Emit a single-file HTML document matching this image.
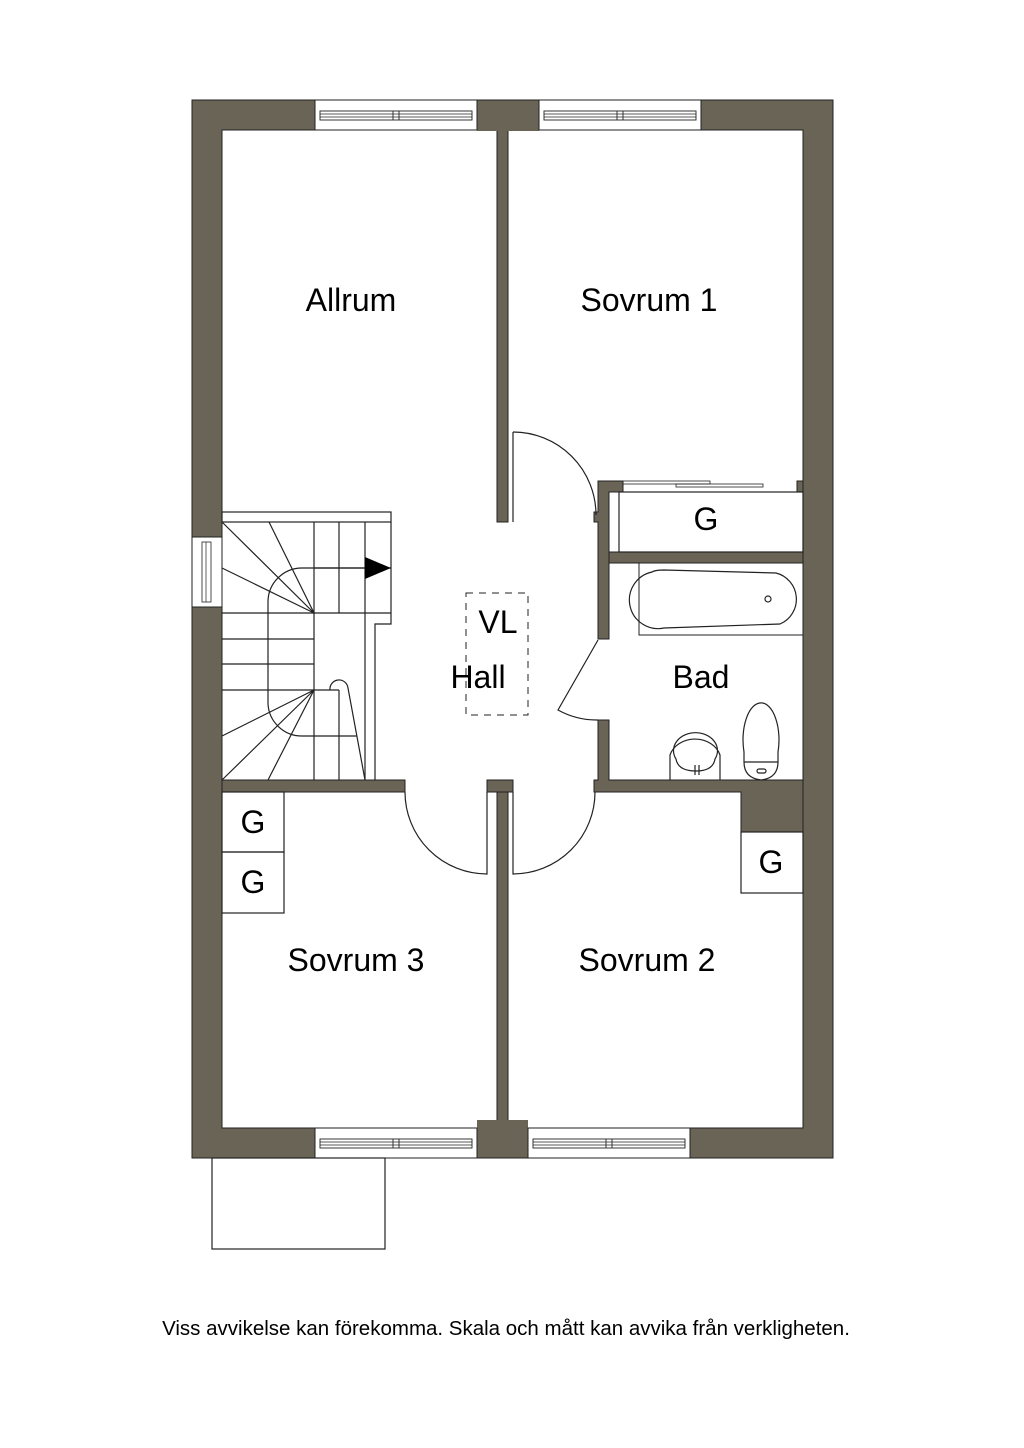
<!DOCTYPE html>
<html><head><meta charset="utf-8"><style>
html,body{margin:0;padding:0;background:#fff;}
svg{display:block;}
text{font-family:"Liberation Sans",sans-serif;fill:#000;}
</style></head><body>
<svg width="1024" height="1448" viewBox="0 0 1024 1448" xmlns="http://www.w3.org/2000/svg">
<defs>
<g id="winH">
<rect x="0" y="0" width="162" height="30" fill="#fff" stroke="#222" stroke-width="1"/>
<rect x="5" y="11" width="152" height="9" fill="none" stroke="#222" stroke-width="0.9"/>
<line x1="5" y1="14" x2="157" y2="14" stroke="#222" stroke-width="0.7"/>
<line x1="5" y1="17" x2="157" y2="17" stroke="#222" stroke-width="0.7"/>
<line x1="78" y1="11" x2="78" y2="20" stroke="#222" stroke-width="0.9"/>
<line x1="84" y1="11" x2="84" y2="20" stroke="#222" stroke-width="0.9"/>
</g>
</defs>
<g fill="#6a6456" stroke="#222" stroke-width="1">
<path fill-rule="evenodd" d="M192 100 H833 V1158 H192 Z M222 130 V1128 H803 V130 Z"/>
<rect x="497" y="130" width="11" height="392"/>
<rect x="477" y="115" width="62" height="16" stroke="none"/>
<rect x="497" y="792" width="11" height="336"/>
<rect x="477" y="1120" width="51" height="12" stroke="none"/>
<rect x="487" y="780" width="26" height="12"/>
<rect x="222" y="780" width="183" height="12"/>
<path d="M598 481 H623 V492 H609 V639 H598 V522 H594 V512 H598 Z"/>
<rect x="797" y="481" width="6" height="11"/>
<rect x="609" y="552" width="194" height="11"/>
<path d="M598 720 H609 V780 H803 V832 H741 V792 H594 V780 H598 Z"/>
</g>
<use href="#winH" x="315" y="100"/>
<use href="#winH" x="539" y="100"/>
<use href="#winH" x="315" y="1128"/>
<use href="#winH" x="528" y="1128"/>
<rect x="192" y="537" width="30" height="70" fill="#fff" stroke="#222"/>
<rect x="202" y="542" width="9" height="60" fill="none" stroke="#222" stroke-width="0.8"/>
<line x1="206" y1="542" x2="206" y2="602" stroke="#222" stroke-width="0.7"/>
<g fill="none" stroke="#222" stroke-width="1.2">
<rect x="222" y="512" width="169" height="10"/>
<path d="M391 522 V624 H375 V780"/>
<line x1="365" y1="522" x2="365" y2="780"/>
<line x1="314" y1="522" x2="314" y2="780"/>
<line x1="339" y1="522" x2="339" y2="613"/>
<line x1="339" y1="690" x2="339" y2="780"/>
<line x1="314" y1="568" x2="391" y2="568"/>
<line x1="222" y1="613" x2="391" y2="613"/>
<line x1="222" y1="639" x2="314" y2="639"/>
<line x1="222" y1="664" x2="314" y2="664"/>
<line x1="222" y1="690" x2="339" y2="690"/>
<line x1="314" y1="736" x2="357" y2="736"/>
<path d="M314 613 L222 522 M314 613 L269 522 M314 613 L222 568"/>
<path d="M314 690 L222 736 M314 690 L222 780 M314 690 L268 780"/>
<path d="M365 568 H302 A34 34 0 0 0 268 602 V704 A34 34 0 0 0 302 736 H314"/>
<path d="M330 690 A9 9 0 0 1 348 688 L365 780"/>
<rect x="466" y="593" width="62" height="122" stroke-dasharray="7,6" stroke-width="1"/>
<path d="M513 432 V522"/>
<path d="M513 432 A83 83 0 0 1 596 515"/>
<path d="M405 792 A82 82 0 0 0 487 874 V792"/>
<path d="M595 792 A82 82 0 0 1 513 874 V792"/>
<path d="M598 640 L558 710 A80 80 0 0 0 598 720"/>
<rect x="222" y="792" width="62" height="60"/>
<rect x="222" y="852" width="62" height="61"/>
<rect x="741" y="832" width="62" height="61"/>
<rect x="619" y="492" width="184" height="60"/>
<rect x="623" y="481" width="87" height="3" stroke-width="0.8"/>
<rect x="676" y="484" width="87" height="3" stroke-width="0.8"/>
<rect x="212" y="1158" width="173" height="91"/>
<rect x="639" y="563" width="164" height="72" stroke-width="1"/>
<path d="M664 570 Q655 570 652 572 A28 28 0 0 0 664 628 L780 624 A27 27 0 0 0 776 573 L664 570 Z"/>
<circle cx="768" cy="599" r="3"/>
<path d="M670 780 V755 A26 22 0 0 1 720 755 V780"/>
<path d="M676 759 A22 18 0 1 1 715 759 Q713 771 696 771 Q678 771 676 759 Z"/>
<path d="M695 765 V775 M699 765 V775"/>
<path d="M744 752 A18 37 0 1 1 778 752 V762 Q778 778 761 780 Q744 778 744 762 Z"/>
<path d="M744 762 H778"/>
<rect x="757" y="769" width="9" height="4" rx="2"/>
</g>
<path d="M365 557 L391 568 L365 579 Z" fill="#000"/>
<g font-size="32" text-anchor="middle">
<text x="351" y="311">Allrum</text>
<text x="649" y="311">Sovrum 1</text>
<text x="706" y="530">G</text>
<text x="498" y="633">VL</text>
<text x="478" y="688">Hall</text>
<text x="701" y="688">Bad</text>
<text x="253" y="833">G</text>
<text x="253" y="893">G</text>
<text x="771" y="873">G</text>
<text x="356" y="971">Sovrum 3</text>
<text x="647" y="971">Sovrum 2</text>
</g>
<text x="506" y="1335" font-size="20.5" text-anchor="middle">Viss avvikelse kan förekomma. Skala och mått kan avvika från verkligheten.</text>
</svg>
</body></html>
